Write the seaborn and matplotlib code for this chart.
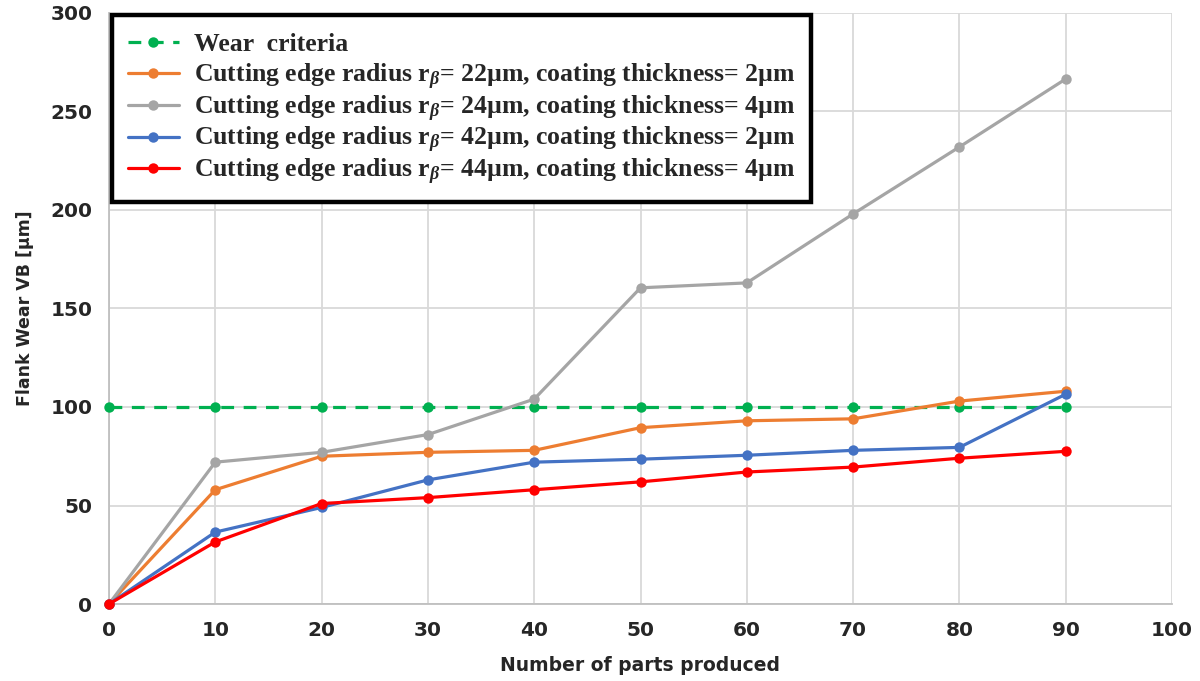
import matplotlib
matplotlib.use("Agg")
import matplotlib.pyplot as plt
from matplotlib.offsetbox import DrawingArea
import seaborn as sns
import pandas as pd

# Parts produced (x) and flank wear VB in µm for each tool configuration
parts = [0, 10, 20, 30, 40, 50, 60, 70, 80, 90]
wear_criteria = [100, 100, 100, 100, 100, 100, 100, 100, 100, 100]
r22_c2 = [0, 58, 75, 77, 78, 89.5, 93, 94, 103, 108]
r24_c4 = [0, 72, 77, 86, 104, 160.5, 163, 198, 232, 266.5]
r42_c2 = [0, 36.5, 49, 63, 72, 73.5, 75.5, 78, 79.5, 106.5]
r44_c4 = [0, 31.5, 51, 54, 58, 62, 67, 69.5, 74, 77.5]

series_names = [
    "Wear  criteria",
    "Cutting edge radius r$_{\\mathit{\\beta}}$= 22µm, coating thickness= 2µm",
    "Cutting edge radius r$_{\\mathit{\\beta}}$= 24µm, coating thickness= 4µm",
    "Cutting edge radius r$_{\\mathit{\\beta}}$= 42µm, coating thickness= 2µm",
    "Cutting edge radius r$_{\\mathit{\\beta}}$= 44µm, coating thickness= 4µm",
]
series_values = [wear_criteria, r22_c2, r24_c4, r42_c2, r44_c4]
series_colors = ["#00B050", "#ED7D31", "#A5A5A5", "#4472C4", "#FF0000"]

x_ticks = [0, 10, 20, 30, 40, 50, 60, 70, 80, 90, 100]
y_ticks = [0, 50, 100, 150, 200, 250, 300]

sns.set_theme(style="white")
plt.rcParams["font.family"] = ["DejaVu Sans"]
plt.rcParams["mathtext.fontset"] = "custom"
plt.rcParams["mathtext.rm"] = "Liberation Serif:bold"
plt.rcParams["mathtext.it"] = "Liberation Serif:italic:bold"
plt.rcParams["mathtext.bf"] = "Liberation Serif:bold"

fig = plt.figure(figsize=(12, 6.81), dpi=100)
ax = fig.add_axes([109 / 1200, 77 / 681, 1063 / 1200, 591 / 681])

for name, vals, col in zip(series_names, series_values, series_colors):
    df = pd.DataFrame({"parts": parts, "wear": vals})
    dashed = name.startswith("Wear")
    sns.lineplot(
        data=df, x="parts", y="wear", ax=ax, color=col, label=name,
        marker="o", markersize=7.5, markeredgewidth=0, linewidth=2.3,
        linestyle=(0, (4, 3)) if dashed else "-", clip_on=False, zorder=3,
    )

ax.set_xlim(0, 100)
ax.set_ylim(0, 300)
ax.set_xticks(x_ticks)
ax.set_yticks(y_ticks)
ax.grid(True, color="#D9D9D9", linewidth=1.3, zorder=0)
ax.set_axisbelow(True)
for side in ["top", "right"]:
    ax.spines[side].set_visible(False)
for side in ["left", "bottom"]:
    ax.spines[side].set_color("#BFBFBF")
    ax.spines[side].set_linewidth(1.3)

ax.tick_params(axis="y", length=0, labelsize=14.5, pad=12)
ax.tick_params(axis="x", length=0, labelsize=14.5, pad=12)
for lab in ax.get_xticklabels() + ax.get_yticklabels():
    lab.set_fontweight("bold")
ax.set_xlabel("Number of parts produced", fontsize=13.5, fontweight="bold", labelpad=12)
ax.set_ylabel("Flank Wear VB [µm]", fontsize=12.5, fontweight="bold", labelpad=12)

leg = ax.legend(
    loc="upper left", bbox_to_anchor=(0.003, 0.997), frameon=True, fancybox=False,
    framealpha=1, edgecolor="black", handlelength=2.0, handletextpad=0.6,
    borderpad=0.6, labelspacing=0.06, borderaxespad=0,
    prop={"family": "Liberation Serif", "weight": "bold", "size": 18.5},
)
leg.get_frame().set_linewidth(3.2)
leg.set_zorder(5)

# Give the plain-text first row the same height as the rows with a subscript,
# so that all legend rows are evenly spaced.
try:
    fig.canvas.draw()
    renderer = fig.canvas.get_renderer()
    rows = leg._legend_handle_box.get_children()[0].get_children()
    bb = rows[1].get_children()[1].get_bbox(renderer)
    k = renderer.points_to_pixels(1.0)
    strut = DrawingArea(0, bb.height / k, 0, -bb.y0 / k)
    rows[0].get_children().append(strut)
except Exception:
    pass

fig.savefig("out.png", dpi=100)
